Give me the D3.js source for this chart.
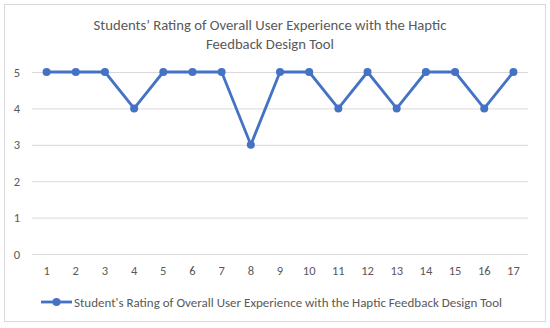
<!DOCTYPE html>
<html>
<head>
<meta charset="utf-8">
<script src="https://cdn.jsdelivr.net/npm/d3@7"></script>
<style>
  body { margin: 0; background: #fff; }
  text { font-family: Calibri, Carlito, "Open Sans", sans-serif; }
</style>
</head>
<body>
<div id="chart"></div>
<script>
const students = d3.range(1, 18).map(String);
const ratings = [5, 5, 5, 4, 5, 5, 5, 3, 5, 5, 4, 5, 4, 5, 5, 4, 5];
const yTicks = [0, 1, 2, 3, 4, 5];
const titleLines = ["Students\u2019 Rating of Overall User Experience with the Haptic", "Feedback Design Tool"];
const seriesName = "Student's Rating of Overall User Experience with the Haptic Feedback Design Tool";

const W = 550, H = 328;
const margin = {top: 72, right: 22, bottom: 74, left: 32};
const width = W - margin.left - margin.right,
      height = H - margin.top - margin.bottom;
const blue = "#4472C4", gray = "#595959";

const svg = d3.select("#chart").append("svg")
    .attr("width", W)
    .attr("height", H);

svg.append("rect")
    .attr("x", 4.5).attr("y", 4.5)
    .attr("width", 541).attr("height", 317)
    .attr("fill", "#fff")
    .attr("stroke", "#d9d9d9");

// Title
svg.append("g").selectAll("text")
    .data(titleLines)
    .enter().append("text")
    .attr("x", W / 2 - 5)
    .attr("y", (d, i) => 30 + i * 19)
    .attr("text-anchor", "middle")
    .attr("font-size", 14.7)
    .attr("fill", gray)
    .text(d => d);

const g = svg.append("g")
    .attr("transform", `translate(${margin.left},${margin.top})`);

const x = d3.scaleBand().domain(students).range([0, width]);
const y = d3.scaleLinear().domain([0, 5]).range([height, 0]);

// Gridlines and y labels
const yAxis = g.append("g")
    .call(d3.axisLeft(y).tickValues(yTicks).tickFormat(d3.format("d")).tickSize(-width).tickPadding(12));
yAxis.select(".domain").remove();
yAxis.selectAll("line").attr("stroke", "#d9d9d9");
yAxis.selectAll("text").attr("fill", gray).attr("font-size", 12.5);

// x labels
const xAxis = g.append("g")
    .attr("transform", `translate(0,${height})`)
    .call(d3.axisBottom(x).tickSize(0).tickPadding(12));
xAxis.select(".domain").remove();
xAxis.selectAll("text").attr("fill", gray).attr("font-size", 12.5);

const cx = (d, i) => x(students[i]) + x.bandwidth() / 2;

g.append("path")
    .datum(ratings)
    .attr("fill", "none")
    .attr("stroke", blue)
    .attr("stroke-width", 2.8)
    .attr("stroke-linejoin", "round")
    .attr("d", d3.line().x(cx).y(d => y(d)));

g.selectAll("circle")
    .data(ratings)
    .enter().append("circle")
    .attr("cx", cx)
    .attr("cy", d => y(d))
    .attr("r", 4)
    .attr("fill", blue);

// Legend
const legend = svg.append("g").attr("transform", "translate(41,302)");
legend.append("line")
    .attr("x1", 0).attr("x2", 31)
    .attr("stroke", blue).attr("stroke-width", 2.8);
legend.append("circle")
    .attr("cx", 15.5).attr("r", 4).attr("fill", blue);
legend.append("text")
    .attr("x", 33).attr("y", 4.5)
    .attr("font-size", 13)
    .attr("fill", gray)
    .text(seriesName);
</script>
</body>
</html>
